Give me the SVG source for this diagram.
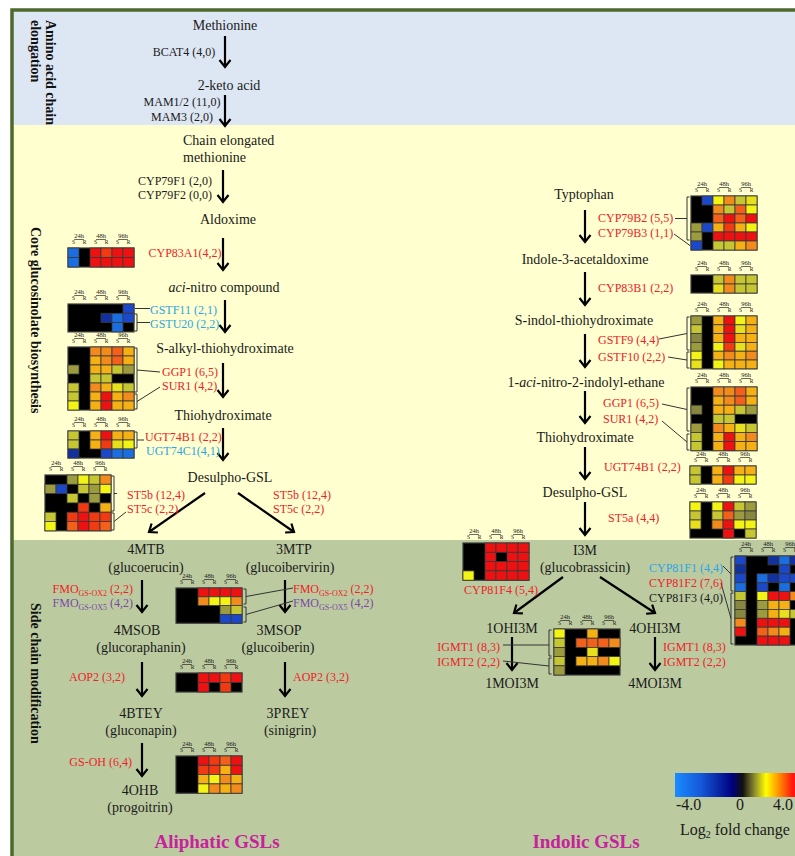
<svg xmlns="http://www.w3.org/2000/svg" xmlns:xlink="http://www.w3.org/1999/xlink" width="795" height="856" viewBox="0 0 795 856">
<style>
text{font-family:"Liberation Serif","Times New Roman",serif;fill:#1a1a1a}
.c{font-size:14px;text-anchor:middle}
.g{font-size:12px}
.m{text-anchor:middle}
.e{text-anchor:end}
.red{fill:#ee2228}
.cy{fill:#2aa6e2}
.pu{fill:#7b4aa6}
.sec{font-size:14px;font-weight:bold;fill:#111}
.ttl{font-size:19px;font-weight:bold;fill:#c8219e;text-anchor:middle}
.arr{stroke:#000;stroke-width:2.2;fill:none;marker-end:url(#ah)}
.br{stroke:#333;stroke-width:1;fill:none}
.hbg{fill:#000;stroke:#3a3a3a;stroke-width:1.2}
.cells rect{width:11px;height:9px;stroke:#3a3a3a;stroke-width:.8}
.hh{font-size:6.5px;text-anchor:middle;text-decoration:underline}
.sr{font-size:5.5px;text-anchor:middle}
.r{fill:#ee1111}.rr{fill:#f23a12}.ro{fill:#f2601a}.o{fill:#f28a1c}.yo{fill:#f5b014}
.y{fill:#e8e01c}.yy{fill:#f4f414}.oy{fill:#c6c632}.ol{fill:#9c9c3e}.od{fill:#87873f}
.b{fill:#1a48c8}.bd{fill:#12309e}.bl{fill:#1a6ee0}
#hA .cells rect,#hG .cells rect{height:9.5px}
#hB .cells rect,#hE .cells rect,#hH .cells rect,#hO .cells rect{height:9.3px}
#hF .cells rect,#hK .cells rect{height:8.8px}
#hL .cells rect{height:9.1px}
#hP .cells rect{height:9.2px}
#hQ .cells rect{height:8.9px}
</style>
<defs>
<marker id="ah" markerUnits="userSpaceOnUse" viewBox="-10 -8 12 16" markerWidth="12" markerHeight="16" refX="0" refY="0" orient="auto" overflow="visible">
<path d="M-7,-5.5L0,0L-7,5.5" fill="none" stroke="#000" stroke-width="2.2"/>
</marker>
<linearGradient id="lg" x1="0" y1="0" x2="1" y2="0">
<stop offset="0" stop-color="#1a8cff"/>
<stop offset="0.2" stop-color="#1458d8"/>
<stop offset="0.44" stop-color="#000080"/>
<stop offset="0.52" stop-color="#101010"/>
<stop offset="0.61" stop-color="#8a8a30"/>
<stop offset="0.7" stop-color="#ffff00"/>
<stop offset="0.8" stop-color="#ff9000"/>
<stop offset="0.9" stop-color="#ff1a10"/>
<stop offset="1" stop-color="#ff0000"/>
</linearGradient>
<g id="hdr">
<text class="hh" x="11" y="-10">24h</text><text class="hh" x="33" y="-10">48h</text><text class="hh" x="55" y="-10">96h</text>
<text class="sr" x="5.5" y="-4.2">S</text><text class="sr" x="16.5" y="-4.2">R</text>
<text class="sr" x="27.5" y="-4.2">S</text><text class="sr" x="38.5" y="-4.2">R</text>
<text class="sr" x="49.5" y="-4.2">S</text><text class="sr" x="60.5" y="-4.2">R</text>
</g>
</defs>

<g id="background">
<rect x="0" y="0" width="795" height="856" fill="#ffffff"/>
<rect x="12" y="10" width="800" height="115" fill="#dde6f3"/>
<rect x="12" y="125" width="800" height="415" fill="#ffffcf"/>
<rect x="12" y="540" width="800" height="330" fill="#bccaa0"/>
<rect x="12" y="10" width="800" height="860" fill="none" stroke="#4d6a2c" stroke-width="3.5"/>
</g>

<g id="section-labels">
<text class="sec" transform="translate(46,20) rotate(90)">Amino acid chain</text>
<text class="sec" transform="translate(31,20) rotate(90)">elongation</text>
<text class="sec" transform="translate(31,227) rotate(90)">Core glucosinolate biosynthesis</text>
<text class="sec" transform="translate(31,603) rotate(90)">Side chain modification</text>
</g>

<g id="nodes">
<g id="n-methionine"><text class="c" x="225" y="30">Methionine</text></g>
<g id="n-2keto"><text class="c" x="229" y="90">2-keto acid</text></g>
<g id="n-chain"><text x="183" y="145" font-size="14">Chain elongated</text><text x="183" y="162" font-size="14">methionine</text></g>
<g id="n-aldoxime"><text class="c" x="228" y="224">Aldoxime</text></g>
<g id="n-acinitro"><text class="c" x="224" y="292"><tspan font-style="italic">aci</tspan>-nitro compound</text></g>
<g id="n-salkyl"><text class="c" x="225" y="353">S-alkyl-thiohydroximate</text></g>
<g id="n-thio-a"><text class="c" x="223" y="420">Thiohydroximate</text></g>
<g id="n-desulpho-a"><text class="c" x="230" y="482">Desulpho-GSL</text></g>
<g id="n-4mtb"><text class="c" x="146" y="554">4MTB</text><text class="c" x="146" y="572">(glucoerucin)</text></g>
<g id="n-3mtp"><text class="c" x="294" y="554">3MTP</text><text class="c" x="290" y="572">(glucoibervirin)</text></g>
<g id="n-4msob"><text class="c" x="137" y="635">4MSOB</text><text class="c" x="141" y="652">(glucoraphanin)</text></g>
<g id="n-3msop"><text class="c" x="279" y="635">3MSOP</text><text class="c" x="278" y="652">(glucoiberin)</text></g>
<g id="n-4btey"><text class="c" x="141" y="718">4BTEY</text><text class="c" x="141" y="735">(gluconapin)</text></g>
<g id="n-3prey"><text class="c" x="288" y="718">3PREY</text><text class="c" x="290" y="735">(sinigrin)</text></g>
<g id="n-4ohb"><text class="c" x="140" y="795">4OHB</text><text class="c" x="140" y="812">(progoitrin)</text></g>

<g id="n-trp"><text class="c" x="584" y="199">Typtophan</text></g>
<g id="n-iaox"><text class="c" x="585" y="264">Indole-3-acetaldoxime</text></g>
<g id="n-sindol"><text class="c" x="584" y="325">S-indol-thiohydroximate</text></g>
<g id="n-acinitro-i"><text class="c" x="586" y="387">1-<tspan font-style="italic">aci</tspan>-nitro-2-indolyl-ethane</text></g>
<g id="n-thio-i"><text class="c" x="585" y="442">Thiohydroximate</text></g>
<g id="n-desulpho-i"><text class="c" x="585" y="497">Desulpho-GSL</text></g>
<g id="n-i3m"><text class="c" x="585" y="555">I3M</text><text class="c" x="585" y="572">(glucobrassicin)</text></g>
<g id="n-1ohi3m"><text class="c" x="512" y="633">1OHI3M</text></g>
<g id="n-4ohi3m"><text class="c" x="655" y="633">4OHI3M</text></g>
<g id="n-1moi3m"><text class="c" x="512" y="688">1MOI3M</text></g>
<g id="n-4moi3m"><text class="c" x="655" y="688">4MOI3M</text></g>
</g>

<g id="heatmaps">
<g id="hA" transform="translate(68,248)"><use xlink:href="#hdr" href="#hdr"/><rect class="hbg" width="66" height="19"/><g class="cells">
<rect class="bl" x="0" y="0"/><rect class="r" x="22" y="0"/><rect class="rr" x="33" y="0"/><rect class="r" x="44" y="0"/><rect class="r" x="55" y="0"/>
<rect class="bl" x="0" y="9.5"/><rect class="r" x="22" y="9.5"/><rect class="r" x="33" y="9.5"/><rect class="r" x="44" y="9.5"/><rect class="r" x="55" y="9.5"/>
</g></g>
<g id="hB" transform="translate(68,304)"><use xlink:href="#hdr" href="#hdr"/><rect class="hbg" width="66" height="27.9"/><g class="cells">
<rect class="b" x="55" y="0"/>
<rect class="bd" x="33" y="9.3"/><rect class="bl" x="44" y="9.3"/><rect class="b" x="55" y="9.3"/>
<rect class="bl" x="44" y="18.6"/>
</g></g>
<g id="hC" transform="translate(68,347)"><use xlink:href="#hdr" href="#hdr"/><rect class="hbg" width="66" height="63"/><g class="cells">
<rect class="o" x="22" y="0"/><rect class="o" x="33" y="0"/><rect class="ro" x="44" y="0"/><rect class="yo" x="55" y="0"/>
<rect class="yo" x="22" y="9"/><rect class="o" x="33" y="9"/><rect class="ro" x="44" y="9"/><rect class="yo" x="55" y="9"/>
<rect class="ol" x="0" y="18"/><rect class="yo" x="22" y="18"/><rect class="yo" x="33" y="18"/><rect class="oy" x="44" y="18"/><rect class="ol" x="55" y="18"/>
<rect class="oy" x="22" y="27"/><rect class="oy" x="33" y="27"/>
<rect class="oy" x="0" y="36"/><rect class="o" x="22" y="36"/><rect class="yo" x="33" y="36"/><rect class="y" x="44" y="36"/><rect class="oy" x="55" y="36"/>
<rect class="oy" x="0" y="45"/><rect class="yo" x="22" y="45"/><rect class="r" x="33" y="45"/><rect class="yo" x="44" y="45"/><rect class="o" x="55" y="45"/>
<rect class="yy" x="0" y="54"/><rect class="yo" x="22" y="54"/><rect class="r" x="33" y="54"/><rect class="yo" x="44" y="54"/><rect class="yo" x="55" y="54"/>
</g></g>
<g id="hD" transform="translate(68,431)"><use xlink:href="#hdr" href="#hdr"/><rect class="hbg" width="66" height="27"/><g class="cells">
<rect class="oy" x="0" y="0"/><rect class="yo" x="22" y="0"/><rect class="r" x="33" y="0"/><rect class="yo" x="44" y="0"/><rect class="yo" x="55" y="0"/>
<rect class="oy" x="0" y="9"/><rect class="yo" x="22" y="9"/><rect class="rr" x="33" y="9"/><rect class="y" x="44" y="9"/><rect class="yy" x="55" y="9"/>
<rect class="bd" x="0" y="18"/><rect class="b" x="33" y="18"/><rect class="bl" x="44" y="18"/><rect class="bl" x="55" y="18"/>
</g></g>
<g id="hE" transform="translate(45,475)"><use xlink:href="#hdr" href="#hdr"/><rect class="hbg" width="66" height="55.8"/><g class="cells">
<rect class="ol" x="22" y="0"/><rect class="yy" x="33" y="0"/><rect class="oy" x="44" y="0"/><rect class="o" x="55" y="0"/>
<rect class="ol" x="0" y="9.3"/><rect class="b" x="11" y="9.3"/><rect class="oy" x="33" y="9.3"/><rect class="ol" x="44" y="9.3"/><rect class="yy" x="55" y="9.3"/>
<rect class="oy" x="22" y="18.6"/><rect class="ol" x="44" y="18.6"/>
<rect class="rr" x="33" y="27.9"/><rect class="yo" x="55" y="27.9"/>
<rect class="oy" x="0" y="37.2"/><rect class="rr" x="22" y="37.2"/><rect class="r" x="33" y="37.2"/><rect class="rr" x="44" y="37.2"/><rect class="rr" x="55" y="37.2"/>
<rect class="yy" x="0" y="46.5"/><rect class="ro" x="22" y="46.5"/><rect class="r" x="33" y="46.5"/><rect class="rr" x="44" y="46.5"/><rect class="ro" x="55" y="46.5"/>
</g></g>
<g id="hF" transform="translate(176,588)"><use xlink:href="#hdr" href="#hdr"/><rect class="hbg" width="66" height="35.2"/><g class="cells">
<rect class="r" x="22" y="0"/><rect class="r" x="33" y="0"/><rect class="r" x="44" y="0"/><rect class="r" x="55" y="0"/>
<rect class="o" x="22" y="8.8"/><rect class="yy" x="33" y="8.8"/><rect class="yy" x="44" y="8.8"/><rect class="o" x="55" y="8.8"/>
<rect class="ol" x="44" y="17.6"/><rect class="oy" x="55" y="17.6"/>
<rect class="b" x="44" y="26.4"/><rect class="b" x="55" y="26.4"/>
</g></g>
<g id="hG" transform="translate(176,673)"><use xlink:href="#hdr" href="#hdr"/><rect class="hbg" width="66" height="19"/><g class="cells">
<rect class="r" x="22" y="0"/><rect class="r" x="33" y="0"/><rect class="rr" x="44" y="0"/><rect class="r" x="55" y="0"/>
<rect class="r" x="22" y="9.5"/><rect class="rr" x="44" y="9.5"/>
</g></g>
<g id="hH" transform="translate(176,756)"><use xlink:href="#hdr" href="#hdr"/><rect class="hbg" width="66" height="37.2"/><g class="cells">
<rect class="r" x="22" y="0"/><rect class="rr" x="33" y="0"/><rect class="ro" x="44" y="0"/><rect class="r" x="55" y="0"/>
<rect class="rr" x="22" y="9.3"/><rect class="rr" x="33" y="9.3"/><rect class="yo" x="44" y="9.3"/><rect class="r" x="55" y="9.3"/>
<rect class="yo" x="22" y="18.6"/><rect class="yy" x="33" y="18.6"/><rect class="o" x="44" y="18.6"/><rect class="yo" x="55" y="18.6"/>
<rect class="yy" x="22" y="27.9"/><rect class="o" x="33" y="27.9"/><rect class="yo" x="44" y="27.9"/><rect class="o" x="55" y="27.9"/>
</g></g>
<g id="hI" transform="translate(691,196)"><use xlink:href="#hdr" href="#hdr"/><rect class="hbg" width="66" height="54"/><g class="cells">
<rect class="b" x="11" y="0"/><rect class="yy" x="22" y="0"/><rect class="o" x="33" y="0"/><rect class="oy" x="44" y="0"/><rect class="y" x="55" y="0"/>
<rect class="o" x="22" y="9"/><rect class="oy" x="33" y="9"/><rect class="ro" x="44" y="9"/><rect class="yy" x="55" y="9"/>
<rect class="ro" x="22" y="18"/><rect class="r" x="33" y="18"/><rect class="ro" x="44" y="18"/><rect class="r" x="55" y="18"/>
<rect class="ol" x="0" y="27"/><rect class="b" x="11" y="27"/><rect class="yo" x="22" y="27"/><rect class="rr" x="33" y="27"/><rect class="yo" x="44" y="27"/><rect class="yy" x="55" y="27"/>
<rect class="ol" x="0" y="36"/><rect class="r" x="22" y="36"/><rect class="r" x="33" y="36"/><rect class="r" x="44" y="36"/><rect class="r" x="55" y="36"/>
<rect class="b" x="0" y="45"/><rect class="oy" x="22" y="45"/><rect class="oy" x="33" y="45"/><rect class="yo" x="44" y="45"/><rect class="o" x="55" y="45"/>
</g></g>
<g id="hJ" transform="translate(691,275)"><use xlink:href="#hdr" href="#hdr"/><rect class="hbg" width="66" height="18"/><g class="cells">
<rect class="oy" x="22" y="0"/><rect class="o" x="33" y="0"/><rect class="oy" x="44" y="0"/><rect class="oy" x="55" y="0"/>
<rect class="y" x="22" y="9"/><rect class="o" x="33" y="9"/><rect class="oy" x="44" y="9"/><rect class="oy" x="55" y="9"/>
</g></g>
<g id="hK" transform="translate(691,316)"><use xlink:href="#hdr" href="#hdr"/><rect class="hbg" width="66" height="52.8"/><g class="cells">
<rect class="ol" x="0" y="0"/><rect class="yo" x="22" y="0"/><rect class="r" x="33" y="0"/><rect class="yy" x="44" y="0"/><rect class="yo" x="55" y="0"/>
<rect class="oy" x="0" y="8.8"/><rect class="yo" x="22" y="8.8"/><rect class="r" x="33" y="8.8"/><rect class="y" x="44" y="8.8"/><rect class="yo" x="55" y="8.8"/>
<rect class="od" x="0" y="17.6"/><rect class="yo" x="22" y="17.6"/><rect class="r" x="33" y="17.6"/><rect class="yo" x="44" y="17.6"/><rect class="yo" x="55" y="17.6"/>
<rect class="ol" x="0" y="26.4"/><rect class="yy" x="22" y="26.4"/><rect class="rr" x="33" y="26.4"/><rect class="y" x="44" y="26.4"/><rect class="yo" x="55" y="26.4"/>
<rect class="yy" x="0" y="35.2"/><rect class="yo" x="22" y="35.2"/><rect class="o" x="33" y="35.2"/><rect class="yo" x="44" y="35.2"/><rect class="o" x="55" y="35.2"/>
<rect class="y" x="0" y="44"/><rect class="yy" x="22" y="44"/><rect class="yo" x="33" y="44"/><rect class="yo" x="44" y="44"/><rect class="yo" x="55" y="44"/>
</g></g>
<g id="hL" transform="translate(691,387)"><use xlink:href="#hdr" href="#hdr"/><rect class="hbg" width="66" height="63.7"/><g class="cells">
<rect class="o" x="22" y="0"/><rect class="o" x="33" y="0"/><rect class="ro" x="44" y="0"/><rect class="yo" x="55" y="0"/>
<rect class="yo" x="22" y="9.1"/><rect class="o" x="33" y="9.1"/><rect class="ro" x="44" y="9.1"/><rect class="yo" x="55" y="9.1"/>
<rect class="od" x="0" y="18.2"/><rect class="yo" x="22" y="18.2"/><rect class="yo" x="33" y="18.2"/><rect class="oy" x="44" y="18.2"/><rect class="ol" x="55" y="18.2"/>
<rect class="oy" x="22" y="27.3"/><rect class="oy" x="33" y="27.3"/>
<rect class="ol" x="0" y="36.4"/><rect class="o" x="22" y="36.4"/><rect class="yo" x="33" y="36.4"/><rect class="y" x="44" y="36.4"/><rect class="oy" x="55" y="36.4"/>
<rect class="oy" x="0" y="45.5"/><rect class="yo" x="22" y="45.5"/><rect class="r" x="33" y="45.5"/><rect class="yo" x="44" y="45.5"/><rect class="o" x="55" y="45.5"/>
<rect class="oy" x="0" y="54.6"/><rect class="yo" x="22" y="54.6"/><rect class="r" x="33" y="54.6"/><rect class="yo" x="44" y="54.6"/><rect class="yo" x="55" y="54.6"/>
</g></g>
<g id="hM" transform="translate(690,466)"><use xlink:href="#hdr" href="#hdr"/><rect class="hbg" width="66" height="18"/><g class="cells">
<rect class="oy" x="0" y="0"/><rect class="yo" x="22" y="0"/><rect class="r" x="33" y="0"/><rect class="yo" x="44" y="0"/><rect class="yo" x="55" y="0"/>
<rect class="oy" x="0" y="9"/><rect class="yo" x="22" y="9"/><rect class="rr" x="33" y="9"/><rect class="yy" x="44" y="9"/><rect class="yy" x="55" y="9"/>
</g></g>
<g id="hN" transform="translate(690,502)"><use xlink:href="#hdr" href="#hdr"/><rect class="hbg" width="66" height="36"/><g class="cells">
<rect class="yy" x="0" y="0"/><rect class="yy" x="22" y="0"/><rect class="r" x="33" y="0"/><rect class="oy" x="44" y="0"/><rect class="ol" x="55" y="0"/>
<rect class="oy" x="0" y="9"/><rect class="oy" x="22" y="9"/><rect class="ro" x="33" y="9"/><rect class="ol" x="44" y="9"/><rect class="od" x="55" y="9"/>
<rect class="y" x="0" y="18"/><rect class="o" x="22" y="18"/><rect class="r" x="33" y="18"/><rect class="yy" x="44" y="18"/><rect class="yy" x="55" y="18"/>
<rect class="r" x="33" y="27"/><rect class="oy" x="55" y="27"/>
</g></g>
<g id="hO" transform="translate(463,543)"><use xlink:href="#hdr" href="#hdr"/><rect class="hbg" width="66" height="37.2"/><g class="cells">
<rect class="r" x="22" y="0"/><rect class="r" x="33" y="0"/><rect class="r" x="44" y="0"/><rect class="r" x="55" y="0"/>
<rect class="r" x="22" y="9.3"/><rect class="r" x="44" y="9.3"/><rect class="r" x="55" y="9.3"/>
<rect class="r" x="22" y="18.6"/><rect class="r" x="33" y="18.6"/><rect class="r" x="44" y="18.6"/><rect class="r" x="55" y="18.6"/>
<rect class="yy" x="0" y="27.9"/><rect class="r" x="22" y="27.9"/><rect class="r" x="33" y="27.9"/><rect class="r" x="44" y="27.9"/><rect class="r" x="55" y="27.9"/>
</g></g>
<g id="hP" transform="translate(554,629)"><use xlink:href="#hdr" href="#hdr"/><rect class="hbg" width="66" height="46"/><g class="cells">
<rect class="yy" x="0" y="0"/><rect class="yo" x="33" y="0"/>
<rect class="oy" x="0" y="9.2"/><rect class="ro" x="22" y="9.2"/><rect class="ro" x="33" y="9.2"/><rect class="ro" x="44" y="9.2"/><rect class="o" x="55" y="9.2"/>
<rect class="ol" x="0" y="18.4"/><rect class="y" x="33" y="18.4"/>
<rect class="oy" x="0" y="27.6"/><rect class="yo" x="22" y="27.6"/><rect class="yo" x="33" y="27.6"/><rect class="o" x="44" y="27.6"/><rect class="yy" x="55" y="27.6"/>
<rect class="ol" x="0" y="36.8"/>
</g></g>
<g id="hQ" transform="translate(735,556)"><use xlink:href="#hdr" href="#hdr"/><rect class="hbg" width="66" height="89"/><g class="cells">
<rect class="b" x="0" y="0"/><rect class="bd" x="33" y="0"/><rect class="bl" x="44" y="0"/><rect class="bd" x="55" y="0"/>
<rect class="bd" x="0" y="8.9"/><rect class="b" x="44" y="8.9"/>
<rect class="b" x="0" y="17.8"/><rect class="bl" x="22" y="17.8"/><rect class="bd" x="33" y="17.8"/><rect class="b" x="44" y="17.8"/><rect class="b" x="55" y="17.8"/>
<rect class="bl" x="0" y="26.7"/><rect class="b" x="22" y="26.7"/><rect class="bl" x="44" y="26.7"/>
<rect class="oy" x="0" y="35.6"/><rect class="yy" x="22" y="35.6"/><rect class="r" x="33" y="35.6"/><rect class="r" x="44" y="35.6"/><rect class="o" x="55" y="35.6"/>
<rect class="od" x="0" y="44.5"/><rect class="ol" x="22" y="44.5"/><rect class="yo" x="33" y="44.5"/><rect class="yo" x="44" y="44.5"/>
<rect class="od" x="0" y="53.4"/><rect class="ol" x="22" y="53.4"/><rect class="yo" x="33" y="53.4"/><rect class="y" x="44" y="53.4"/><rect class="oy" x="55" y="53.4"/>
<rect class="o" x="0" y="62.3"/><rect class="r" x="22" y="62.3"/><rect class="r" x="33" y="62.3"/><rect class="r" x="44" y="62.3"/>
<rect class="r" x="0" y="71.2"/><rect class="ro" x="22" y="71.2"/><rect class="o" x="33" y="71.2"/><rect class="yo" x="44" y="71.2"/>
<rect class="r" x="22" y="80.1"/><rect class="r" x="33" y="80.1"/><rect class="r" x="44" y="80.1"/>
</g></g>
</g>

<g id="connectors">
<path class="arr" d="M225 36V67"/>
<path class="arr" d="M225 95V126"/>
<path class="arr" d="M223 170V202"/>
<path class="arr" d="M223 238V270"/>
<path class="arr" d="M225 300V332"/>
<path class="arr" d="M223 363V397"/>
<path class="arr" d="M223 428V460"/>
<path class="arr" d="M205 493L149 532"/>
<path class="arr" d="M238 493L294 532"/>
<path class="arr" d="M142 580V612"/>
<path class="arr" d="M285 580V612"/>
<path class="arr" d="M142 662V696"/>
<path class="arr" d="M285 662V696"/>
<path class="arr" d="M142 743V776"/>
<path class="arr" d="M585 210V242"/>
<path class="arr" d="M585 272V305"/>
<path class="arr" d="M585 334V367"/>
<path class="arr" d="M585 391V423"/>
<path class="arr" d="M585 447V479"/>
<path class="arr" d="M585 502V535"/>
<path class="arr" d="M563 577L514 613"/>
<path class="arr" d="M600 577L655 613"/>
<path class="arr" d="M512 637V670"/>
<path class="arr" d="M655 637V670"/>
<g id="brackets" class="br">
<path d="M135 308.5H150"/>
<path d="M134.5 314H137V331H134.5M137 322.5H150"/>
<path d="M134.5 348H137V392H134.5M137 370L160 372"/>
<path d="M134.5 394H137V409H134.5M137 401.5L160 387"/>
<path d="M134.5 432H137V448H134.5M137 440H144"/>
<path d="M111.5 476H114V511H111.5M114 493.5h3"/>
<path d="M111.5 513H114V530H111.5M114 521.5L126 512"/>
<path d="M243.5 589H246V604H243.5M246 596.5L293 588"/>
<path d="M243.5 607H246V622H243.5M246 614.5L293 601"/>
<path d="M689.5 197H687V240H689.5M687 218.5H675"/>
<path d="M674 234L690 245.5"/>
<path d="M689.5 317H687V350H689.5M687 333.5L659 339"/>
<path d="M689.5 352H687V368H689.5M687 360L668 357"/>
<path d="M689.5 388H687V431H689.5M687 409.5L662 404"/>
<path d="M689.5 434H687V450H689.5M687 442L662 421"/>
<path d="M551.5 630H549V656H551.5M549 645H503"/>
<path d="M551.5 658H549V674H551.5M549 666L503 661"/>
<path d="M733.5 557H731V591H733.5M731 574L723 566"/>
<path d="M733.5 593H731V644H733.5M731 618.5L721 583"/>
</g>
</g>

<g id="gene-labels">
<text class="g m" x="184" y="56">BCAT4 (4,0)</text>
<text class="g m" x="182" y="106">MAM1/2 (11,0)</text>
<text class="g m" x="182" y="121">MAM3 (2,0)</text>
<text class="g m" x="175" y="185">CYP79F1 (2,0)</text>
<text class="g m" x="175" y="199">CYP79F2 (0,0)</text>
<text class="g red m" x="185" y="257">CYP83A1(4,2)</text>
<text class="g cy" x="150" y="314">GSTF11 (2,1)</text>
<text class="g cy" x="150" y="328">GSTU20 (2,2)</text>
<text class="g red" x="162" y="376">GGP1 (6,5)</text>
<text class="g red" x="162" y="390">SUR1 (4,2)</text>
<text class="g red" x="145" y="441">UGT74B1 (2,2)</text>
<text class="g cy" x="146" y="455">UGT74C1(4,1)</text>
<text class="g red" x="127" y="499">ST5b (12,4)</text>
<text class="g red" x="127" y="513">ST5c (2,2)</text>
<text class="g red" x="273" y="499">ST5b (12,4)</text>
<text class="g red" x="273" y="513">ST5c (2,2)</text>
<text class="g red e" x="133" y="593">FMO<tspan font-size="8" dy="2.5">GS-OX2</tspan><tspan dy="-2.5"> (2,2)</tspan></text>
<text class="g pu e" x="133" y="607">FMO<tspan font-size="8" dy="2.5">GS-OX5</tspan><tspan dy="-2.5"> (4,2)</tspan></text>
<text class="g red" x="293" y="593">FMO<tspan font-size="8" dy="2.5">GS-OX2</tspan><tspan dy="-2.5"> (2,2)</tspan></text>
<text class="g pu" x="293" y="607">FMO<tspan font-size="8" dy="2.5">GS-OX5</tspan><tspan dy="-2.5"> (4,2)</tspan></text>
<text class="g red e" x="125" y="681">AOP2 (3,2)</text>
<text class="g red" x="293" y="681">AOP2 (3,2)</text>
<text class="g red e" x="132" y="766">GS-OH (6,4)</text>

<text class="g red" x="598" y="222">CYP79B2 (5,5)</text>
<text class="g red" x="598" y="237">CYP79B3 (1,1)</text>
<text class="g red" x="598" y="292">CYP83B1 (2,2)</text>
<text class="g red" x="598" y="344">GSTF9 (4,4)</text>
<text class="g red" x="598" y="361">GSTF10 (2,2)</text>
<text class="g red" x="603" y="407">GGP1 (6,5)</text>
<text class="g red" x="603" y="423">SUR1 (4,2)</text>
<text class="g red" x="604" y="471">UGT74B1 (2,2)</text>
<text class="g red" x="608" y="522">ST5a (4,4)</text>
<text class="g red m" x="501" y="594">CYP81F4 (5,4)</text>
<text class="g red e" x="500" y="651">IGMT1 (8,3)</text>
<text class="g red e" x="500" y="666">IGMT2 (2,2)</text>
<text class="g red" x="663" y="651">IGMT1 (8,3)</text>
<text class="g red" x="663" y="666">IGMT2 (2,2)</text>
<text class="g cy" x="649" y="572">CYP81F1 (4,4)</text>
<text class="g red" x="649" y="587">CYP81F2 (7,6)</text>
<text class="g" x="649" y="602">CYP81F3 (4,0)</text>
</g>

<g id="legend">
<rect x="675" y="773" width="130" height="24" fill="url(#lg)"/>
<text x="676" y="810" font-size="16">-4.0</text>
<text x="740" y="810" font-size="16" text-anchor="middle">0</text>
<text x="773" y="810" font-size="16">4.0</text>
<text x="680" y="835" font-size="16">Log<tspan font-size="10" dy="3">2</tspan><tspan dy="-3"> fold change</tspan></text>
</g>

<g id="titles">
<text class="ttl" x="217" y="848">Aliphatic GSLs</text>
<text class="ttl" x="586" y="848">Indolic GSLs</text>
</g>
</svg>
